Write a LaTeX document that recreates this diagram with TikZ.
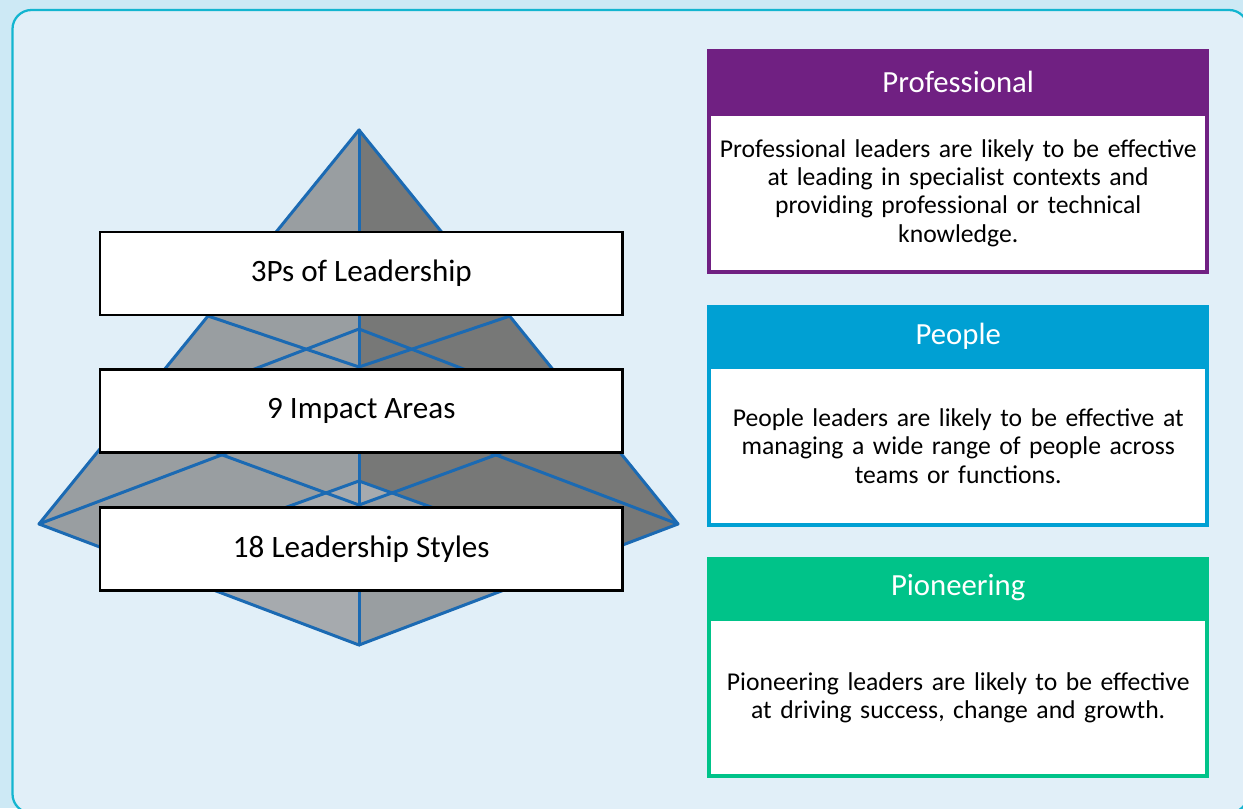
\documentclass[tikz,border=0pt]{standalone}
\usepackage{fontspec}
\setmainfont{Carlito}
\definecolor{bgout}{HTML}{CDE9F5}
\definecolor{bgin}{HTML}{E1EFF8}
\definecolor{framec}{HTML}{13B5D0}
\definecolor{gmed}{HTML}{999EA1}
\definecolor{gdark}{HTML}{777877}
\definecolor{glight}{HTML}{A6AAAE}
\definecolor{pline}{HTML}{1B6AB3}
\definecolor{cpurple}{HTML}{702082}
\definecolor{ccyan}{HTML}{00A0D3}
\definecolor{cgreen}{HTML}{00C389}
\tikzset{
  pline/.style={draw=pline, line width=0.06cm, line join=round, line cap=round},
  pbox/.style={draw=black, fill=white, line width=0.055cm, minimum width=10.45cm, minimum height=1.66cm, inner sep=0pt,
    font=\fontsize{17.7pt}{20pt}\selectfont},
  hdr/.style={fill=#1, minimum width=10.034cm, minimum height=1.28cm, inner sep=0pt, text=white,
    font=\fontsize{17.5pt}{20pt}\selectfont},
  bodybox/.style={draw=#1, fill=white, line width=0.08cm, minimum width=9.954cm, inner sep=0pt,
    align=center, text width=9.9cm, font=\fontsize{14.6pt}{16.1pt}\selectfont},
}
\begin{document}
\begin{tikzpicture}[x=0.02cm,y=-0.02cm]
\useasboundingbox (0,0) rectangle (1243,808);
\begin{scope}
\clip (0,0) rectangle (1243,808);
\fill[bgout] (0,0) rectangle (1243,808);
\draw[framec, fill=bgin, line width=0.045cm, rounded corners=0.38cm] (12.5,10) rectangle (1248,813);
\end{scope}

% pyramid faces
\coordinate (A) at (359,130);
\coordinate (L) at (39,524);
\coordinate (R) at (678,524);
\coordinate (F) at (359,645);
\coordinate (Bk) at (359,403);
\fill[gmed] (A) -- (L) -- (F) -- cycle;
\fill[gdark] (A) -- (F) -- (R) -- cycle;
\fill[glight] (359,481) -- (140,560) -- (F) -- cycle;
\fill[glight] (359,481) -- (392.2,492.9) -- (359,505) -- cycle;
\fill[gmed] (392.2,492.9) -- (578,560) -- (F) -- (359,505) -- cycle;

% pyramid lines
\draw[pline] (L) -- (A) -- (R);
\draw[pline] (A) -- (F);
\draw[pline] (L) -- (F) -- (R);
\draw[pline] (L) -- (Bk) -- (R);
\draw[pline] (208,316) -- (359,367) -- (510,316);
\draw[pline] (124,419) -- (359,329) -- (594,419);
\draw[pline] (124,419) -- (359,505) -- (594,419);
\draw[pline] (140,560) -- (359,481) -- (578,560);

% pyramid boxes
\node[pbox] (b1) at (361.3,273.5) {3Ps of Leadership};
\node[pbox] (b2) at (361.3,411) {9 Impact Areas};
\node[pbox] (b3) at (361.3,549) {18 Leadership Styles};

% right boxes
\node[bodybox=cpurple, minimum height=3.16cm] (t1) at (958.2,193)
  {Professional leaders are likely to be effective\\at leading in specialist contexts and\\providing professional or technical\\knowledge.};
\node[hdr=cpurple, minimum height=1.314cm] (h1) at (958.2,82.2) {Professional};

\node[bodybox=ccyan, minimum height=3.16cm] (t2) at (958.2,446)
  {People leaders are likely to be effective at\\managing a wide range of people across\\teams or functions.};
\node[hdr=ccyan, minimum height=1.24cm] (h2) at (958.2,336) {People};

\node[bodybox=cgreen, minimum height=3.14cm] (t3) at (958.2,697.5)
  {Pioneering leaders are likely to be effective\\at driving success, change and growth.};
\node[hdr=cgreen, minimum height=1.24cm] (h3) at (958.2,588) {Pioneering};
\end{tikzpicture}
\end{document}
